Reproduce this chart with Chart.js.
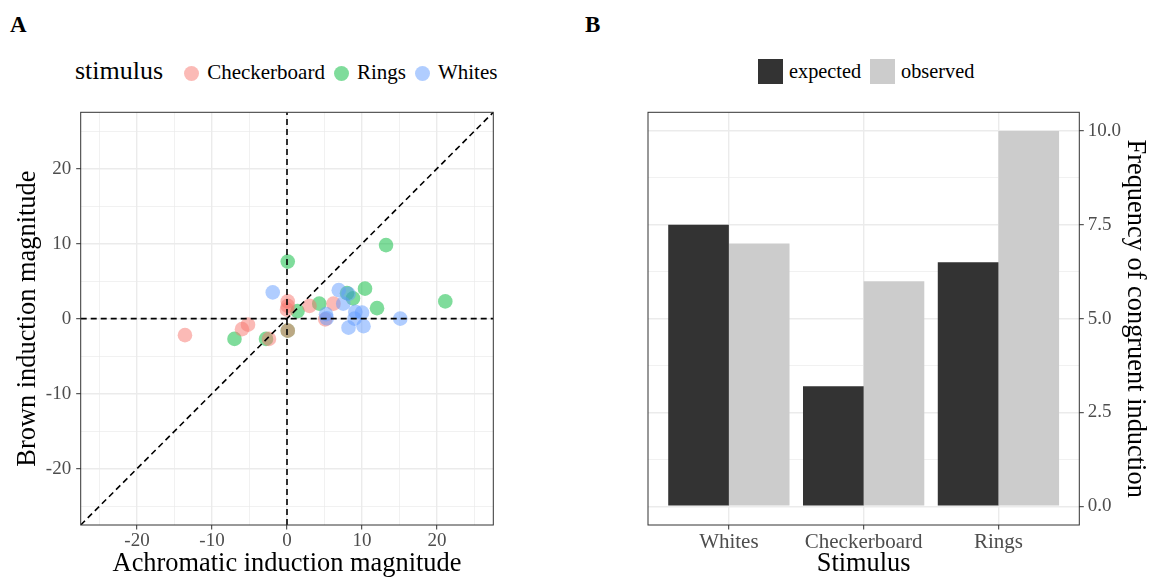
<!DOCTYPE html>
<html>
<head>
<meta charset="utf-8">
<script src="https://cdn.jsdelivr.net/npm/chart.js@4"></script>
<style>
  html, body { margin:0; padding:0; background:#fff; }
  body { width:1151px; height:579px; position:relative; overflow:hidden; font-family:'Liberation Serif', serif; }
  .wrap { position:absolute; top:0; }
  .panel-label { position:absolute; font-weight:bold; font-size:23px; line-height:1; color:#000; }
  .legend { position:absolute; display:flex; align-items:center; height:30px; line-height:1; white-space:nowrap; }
  .legend .ttl { font-size:26px; color:#000; margin-right:21px; position:relative; top:-1px; }
  .legend .dot { width:15px; height:15px; border-radius:50%; margin-right:8px; position:relative; top:1px; }
  .legend .sq { width:25px; height:25px; margin-right:6px; }
  .legend .lbl { font-size:21px; color:#000; margin-right:9px; }
  #legR .lbl { font-size:20.3px; }
</style>
</head>
<body>
<div class="panel-label" style="left:10px; top:13px;">A</div>
<div class="panel-label" style="left:585px; top:13px;">B</div>
<div id="legL" class="legend" style="left:75px; top:57px;"></div>
<div id="legR" class="legend" style="left:758px; top:56px;"></div>
<div class="wrap" style="left:0;"><canvas id="cL" width="575" height="579"></canvas></div>
<div class="wrap" style="left:575px;"><canvas id="cR" width="576" height="579"></canvas></div>
<script>
// ---------------- DATA ----------------
// Panel A: scatter (x = achromatic induction, y = brown induction)
const stimulusNames = ['Checkerboard', 'Rings', 'Whites'];
const checkerX = [-13.6, -6.0, -5.2, -2.4, 0.1, 0.1, 0.0, 0.1, 3.0, 6.2, 5.1];
const checkerY = [-2.2, -1.4, -0.8, -2.7, 2.3, 1.7, 1.2, -1.6, 1.7, 2.0, -0.1];
const ringsX = [13.2, 0.1, 10.4, 21.1, 12.0, 8.8, 8.0, 4.3, 1.4, -7.0, -2.8, 0.1];
const ringsY = [9.8, 7.6, 4.0, 2.3, 1.4, 2.7, 3.4, 2.0, 1.0, -2.7, -2.7, -1.6];
const whitesX = [-1.9, 6.9, 7.5, 8.2, 5.2, 5.3, 9.1, 10.0, 9.0, 8.2, 10.2, 15.1];
const whitesY = [3.5, 3.8, 2.0, 3.3, 0.6, 0.05, 0.9, 0.8, 0.0, -1.2, -1.0, 0.0];
const scatterLimits = [-27.5, 27.5];
const scatterMajorTicks = [-20, -10, 0, 10, 20];
const scatterMinorTicks = [-25, -15, -5, 5, 15, 25];

// Panel B: bars
const categories = ['Whites', 'Checkerboard', 'Rings'];
const barSeriesNames = ['expected', 'observed'];
const expectedValues = [7.5, 3.2, 6.5];
const observedValues = [7.0, 6.0, 10.0];
const barLimits = [-0.5, 10.5];
const barMajorTicks = [0, 2.5, 5, 7.5, 10];
const barTickLabels = ['0.0', '2.5', '5.0', '7.5', '10.0'];
const barMinorTicks = [1.25, 3.75, 6.25, 8.75];

// ---------------- STYLE ----------------
const FONT = 'Liberation Serif';
const TITLE_SIZE = 26.4;
const pointColors = ['rgba(248,118,109,0.5)', 'rgba(0,186,56,0.5)', 'rgba(97,156,255,0.5)'];
const pointOrder = [2, 3, 1]; // drawing layers: Whites on top, Rings at bottom
const barColors = ['#333333', '#CCCCCC'];
const GRID = '#EBEBEB';
const DARK = '#333333';
const TICKTXT = '#4D4D4D';

// legends (HTML)
const legL = document.getElementById('legL');
legL.innerHTML = '<span class="ttl">stimulus</span>' + stimulusNames.map((n, i) =>
  `<span class="dot" style="background:${pointColors[i]}"></span><span class="lbl">${n}</span>`).join('');
const legR = document.getElementById('legR');
legR.innerHTML = barSeriesNames.map((n, i) =>
  `<span class="sq" style="background:${barColors[i]}"></span><span class="lbl">${n}</span>`).join('');

const framePlugin = {
  id: 'frame',
  afterDraw(chart) {
    const { ctx, chartArea: a } = chart;
    ctx.save();
    ctx.strokeStyle = DARK;
    ctx.lineWidth = 1;
    ctx.strokeRect(a.left, a.top, a.right - a.left, a.bottom - a.top);
    ctx.restore();
  }
};

function makeGrid(minorList) {
  return {
    color: GRID,
    lineWidth: c => (c.tick && minorList.includes(c.tick.value)) ? 0.7 : 1.4,
    drawTicks: true,
    tickLength: 4.5,
    tickWidth: 1,
    tickColor: c => (c.tick && minorList.includes(c.tick.value)) ? 'rgba(0,0,0,0)' : DARK
  };
}

// ---------------- PANEL A ----------------
const toPts = (xs, ys) => xs.map((x, i) => ({ x: x, y: ys[i] }));
const refStyle = { type: 'line', showLine: true, pointRadius: 0, borderColor: '#000', borderWidth: 1.6, borderDash: [6, 4], fill: false, order: 0 };
const [lo, hi] = scatterLimits;
const pointSets = [[checkerX, checkerY], [ringsX, ringsY], [whitesX, whitesY]];

new Chart(document.getElementById('cL'), {
  type: 'scatter',
  data: {
    datasets: [
      Object.assign({ label: 'h0', data: [{ x: lo, y: 0 }, { x: hi, y: 0 }] }, refStyle),
      Object.assign({ label: 'v0', data: [{ x: 0, y: lo }, { x: 0, y: hi }] }, refStyle),
      Object.assign({ label: 'diag', data: [{ x: lo, y: lo }, { x: hi, y: hi }] }, refStyle),
      ...pointSets.map((p, i) => ({
        label: stimulusNames[i],
        data: toPts(p[0], p[1]),
        backgroundColor: pointColors[i],
        borderWidth: 0,
        pointRadius: 7.3,
        order: pointOrder[i]
      }))
    ]
  },
  options: {
    responsive: false, animation: false, events: [], devicePixelRatio: 1,
    layout: { padding: { top: 112.3, right: 81.7, bottom: 0, left: 0 } },
    plugins: { legend: { display: false }, tooltip: { enabled: false } },
    scales: {
      x: {
        type: 'linear', min: lo, max: hi,
        afterBuildTicks: s => { s.ticks = [...scatterMinorTicks, ...scatterMajorTicks].sort((a, b) => a - b).map(v => ({ value: v })); },
        afterFit: s => { s.height = 54; },
        grid: makeGrid(scatterMinorTicks),
        border: { display: false },
        ticks: { autoSkip: false, maxRotation: 0, padding: 0, color: TICKTXT, font: { family: FONT, size: 19 },
          callback: v => scatterMajorTicks.includes(v) ? String(v) : '' },
        title: { display: true, text: 'Achromatic induction magnitude', color: '#000', font: { family: FONT, size: TITLE_SIZE, lineHeight: 1 }, padding: { top: 0, bottom: 1.5 } }
      },
      y: {
        type: 'linear', min: lo, max: hi,
        afterBuildTicks: s => { s.ticks = [...scatterMinorTicks, ...scatterMajorTicks].sort((a, b) => a - b).map(v => ({ value: v })); },
        afterFit: s => { s.width = 80.7; },
        grid: makeGrid(scatterMinorTicks),
        border: { display: false },
        ticks: { autoSkip: false, padding: 5, color: TICKTXT, font: { family: FONT, size: 19 },
          callback: v => scatterMajorTicks.includes(v) ? String(v) : '' },
        title: { display: true, text: 'Brown induction magnitude', color: '#000', font: { family: FONT, size: TITLE_SIZE, lineHeight: 1 }, padding: { top: 14.5, bottom: 0 } }
      }
    }
  },
  plugins: [framePlugin]
});

// ---------------- PANEL B ----------------
const catPositions = categories.map((c, i) => i + 1);
new Chart(document.getElementById('cR'), {
  type: 'bar',
  data: {
    datasets: [
      { label: barSeriesNames[0], data: catPositions.map((x, i) => ({ x: x, y: expectedValues[i] })), backgroundColor: barColors[0], borderWidth: 0 },
      { label: barSeriesNames[1], data: catPositions.map((x, i) => ({ x: x, y: observedValues[i] })), backgroundColor: barColors[1], borderWidth: 0 }
    ]
  },
  options: {
    responsive: false, animation: false, events: [], devicePixelRatio: 1,
    categoryPercentage: 0.9, barPercentage: 1.0,
    layout: { padding: { top: 112.3, right: 0, bottom: 0, left: 73 } },
    plugins: { legend: { display: false }, tooltip: { enabled: false } },
    scales: {
      x: {
        type: 'linear', min: 0.4, max: 3.6, offset: false,
        afterBuildTicks: s => { s.ticks = catPositions.map(v => ({ value: v })); },
        afterFit: s => { s.height = 54; },
        grid: Object.assign(makeGrid([]), { offset: false }),
        border: { display: false },
        ticks: { autoSkip: false, maxRotation: 0, padding: 0, color: TICKTXT, font: { family: FONT, size: 21 },
          callback: v => categories[v - 1] || '' },
        title: { display: true, text: 'Stimulus', color: '#000', font: { family: FONT, size: TITLE_SIZE, lineHeight: 1 }, padding: { top: 0, bottom: 1.5 } }
      },
      y: {
        type: 'linear', position: 'right', min: barLimits[0], max: barLimits[1], beginAtZero: false,
        afterBuildTicks: s => { s.ticks = [...barMinorTicks, ...barMajorTicks].sort((a, b) => a - b).map(v => ({ value: v })); },
        afterFit: s => { s.width = 71.7; },
        grid: makeGrid(barMinorTicks),
        border: { display: false },
        ticks: { autoSkip: false, padding: 4, color: TICKTXT, font: { family: FONT, size: 19 },
          callback: v => { const k = barMajorTicks.indexOf(v); return k >= 0 ? barTickLabels[k] : ''; } },
        title: { display: true, text: 'Frequency of congruent induction', color: '#000', font: { family: FONT, size: TITLE_SIZE, lineHeight: 1 }, padding: { top: 2.5, bottom: 0 } }
      }
    }
  },
  plugins: [framePlugin]
});
</script>
</body>
</html>
